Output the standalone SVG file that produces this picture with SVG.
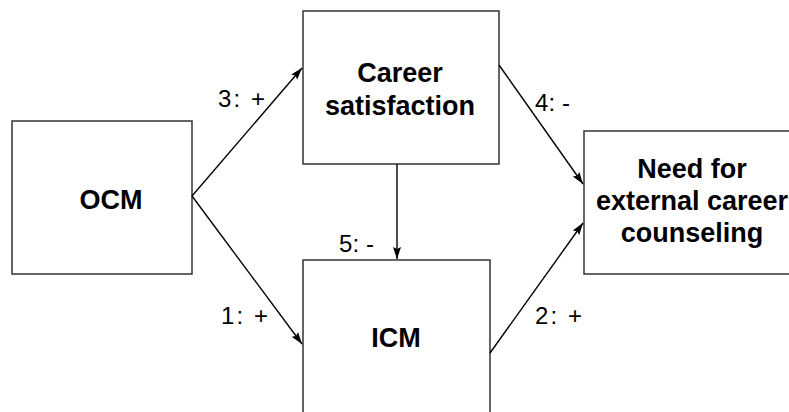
<svg xmlns="http://www.w3.org/2000/svg" width="789" height="412" viewBox="0 0 789 412">
  <defs>
    <marker id="arr" markerWidth="13" markerHeight="10" refX="12" refY="4" orient="auto" markerUnits="userSpaceOnUse">
      <path d="M0,0 L12,4 L0,8 L2,4 Z" fill="#000"/>
    </marker>
  </defs>
  <style>
    .box { fill: #fff; stroke: #333; stroke-width: 1.5; }
    .node { font-family: "Liberation Sans", Arial, sans-serif; font-weight: bold; font-size: 27px; text-anchor: middle; fill: #000; }
    .lbl { font-family: "Liberation Sans", Arial, sans-serif; font-size: 24px; fill: #000; }
    .edge { stroke: #000; stroke-width: 1.4; fill: none; marker-end: url(#arr); }
  </style>
  <rect width="789" height="412" fill="#fff"/>
  <g id="node-ocm">
    <rect class="box" x="12" y="121" width="180" height="153"/>
    <text class="node" x="111" y="209">OCM</text>
  </g>
  <g id="node-career">
    <rect class="box" x="303" y="11" width="196" height="153"/>
    <text class="node" x="400" y="82">Career</text>
    <text class="node" x="400" y="115">satisfaction</text>
  </g>
  <g id="node-need">
    <rect class="box" x="584" y="131" width="220" height="143"/>
    <text class="node" x="692" y="178">Need for</text>
    <text class="node" x="692" y="210">external career</text>
    <text class="node" x="692" y="242">counseling</text>
  </g>
  <g id="node-icm">
    <rect class="box" x="303" y="260" width="187" height="170"/>
    <text class="node" x="396" y="347">ICM</text>
  </g>
  <g id="connectors">
    <line class="edge" x1="192" y1="196" x2="302" y2="68"/>
    <line class="edge" x1="192" y1="196" x2="302" y2="344"/>
    <line class="edge" x1="397" y1="164" x2="397" y2="259"/>
    <line class="edge" x1="499" y1="65" x2="583" y2="184"/>
    <line class="edge" x1="490" y1="353" x2="583" y2="223"/>
  </g>
  <g id="labels">
    <text class="lbl" x="218" y="107" textLength="47">3: +</text>
    <text class="lbl" x="221" y="324" textLength="47">1: +</text>
    <text class="lbl" x="339" y="252" textLength="35">5: -</text>
    <text class="lbl" x="535" y="111" textLength="35">4: -</text>
    <text class="lbl" x="535" y="324" textLength="47">2: +</text>
  </g>
</svg>
